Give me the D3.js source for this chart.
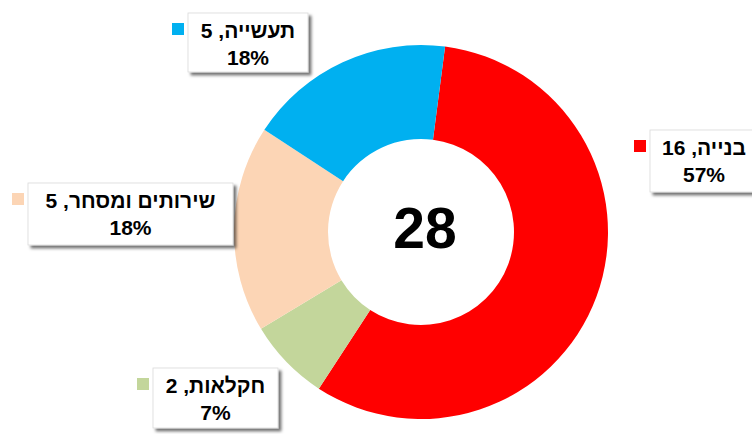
<!DOCTYPE html>
<html>
<head>
<meta charset="utf-8">
<script src="https://cdn.jsdelivr.net/npm/d3@7"></script>
<style>
  body { margin: 0; background: #fff; }
  svg { display: block; }
</style>
</head>
<body>
<svg width="752" height="434"></svg>
<script>
// données
const categories = ['בנייה', 'חקלאות', 'שירותים ומסחר', 'תעשייה'];
const valeurs = [16, 2, 5, 5];
const couleurs = ['#FF0000', '#C3D69B', '#FCD5B5', '#00B0F0'];

// placement des étiquettes (boîtes) : x, y, largeur, hauteur
const boites = [
  [650, 130, 108, 62],
  [153, 368, 125, 60],
  [28, 183, 205, 62],
  [188, 13, 120, 59]
];

const svg = d3.select('svg');
const cx = 421, cy = 232, rExt = 187, rInt = 93;
const total = d3.sum(valeurs);

// ombre portée des boîtes
const defs = svg.append('defs');
const filtre = defs.append('filter').attr('id', 'ombre')
  .attr('x', '-10%').attr('y', '-10%').attr('width', '130%').attr('height', '140%');
filtre.append('feDropShadow')
  .attr('dx', 3).attr('dy', 3).attr('stdDeviation', 1.8)
  .attr('flood-color', '#000').attr('flood-opacity', 0.55);

const debut = 7.4 * Math.PI / 180;
const camembert = d3.pie().sort(null)
  .startAngle(debut).endAngle(debut + 2 * Math.PI);
const arc = d3.arc().innerRadius(rInt).outerRadius(rExt);

const g = svg.append('g').attr('transform', `translate(${cx},${cy})`);
g.selectAll('path')
  .data(camembert(valeurs))
  .join('path')
  .attr('d', arc)
  .attr('fill', (d, i) => couleurs[i]);

// total au centre
g.append('text')
  .attr('x', 4).attr('y', 16)
  .attr('text-anchor', 'middle')
  .attr('font-family', 'Liberation Sans, Arial, sans-serif')
  .attr('font-weight', 'bold')
  .attr('font-size', 57)
  .text(total);

// étiquettes
const etiq = svg.append('g').selectAll('g')
  .data(categories)
  .join('g');

etiq.append('rect')
  .attr('x', (d, i) => boites[i][0])
  .attr('y', (d, i) => boites[i][1])
  .attr('width', (d, i) => boites[i][2])
  .attr('height', (d, i) => boites[i][3])
  .attr('fill', '#fff')
  .attr('stroke', '#d9d9d9')
  .attr('stroke-width', 0.8)
  .attr('filter', 'url(#ombre)');

etiq.append('rect')
  .attr('x', (d, i) => boites[i][0] - 16)
  .attr('y', (d, i) => boites[i][1] + 10)
  .attr('width', 12).attr('height', 12)
  .attr('fill', (d, i) => couleurs[i]);

const txt = etiq.append('text')
  .attr('text-anchor', 'middle')
  .attr('font-family', 'Liberation Sans, Arial, sans-serif')
  .attr('font-weight', 'bold')
  .attr('font-size', 21)
  .attr('fill', '#000');

txt.append('tspan')
  .attr('x', (d, i) => boites[i][0] + boites[i][2] / 2)
  .attr('y', (d, i) => boites[i][1] + 25)
  .attr('direction', 'rtl')
  .attr('unicode-bidi', 'embed')
  .text((d, i) => `${d}, ${valeurs[i]}`);

txt.append('tspan')
  .attr('x', (d, i) => boites[i][0] + boites[i][2] / 2)
  .attr('y', (d, i) => boites[i][1] + 52)
  .text((d, i) => `${Math.round(valeurs[i] / total * 100)}%`);
</script>
</body>
</html>
